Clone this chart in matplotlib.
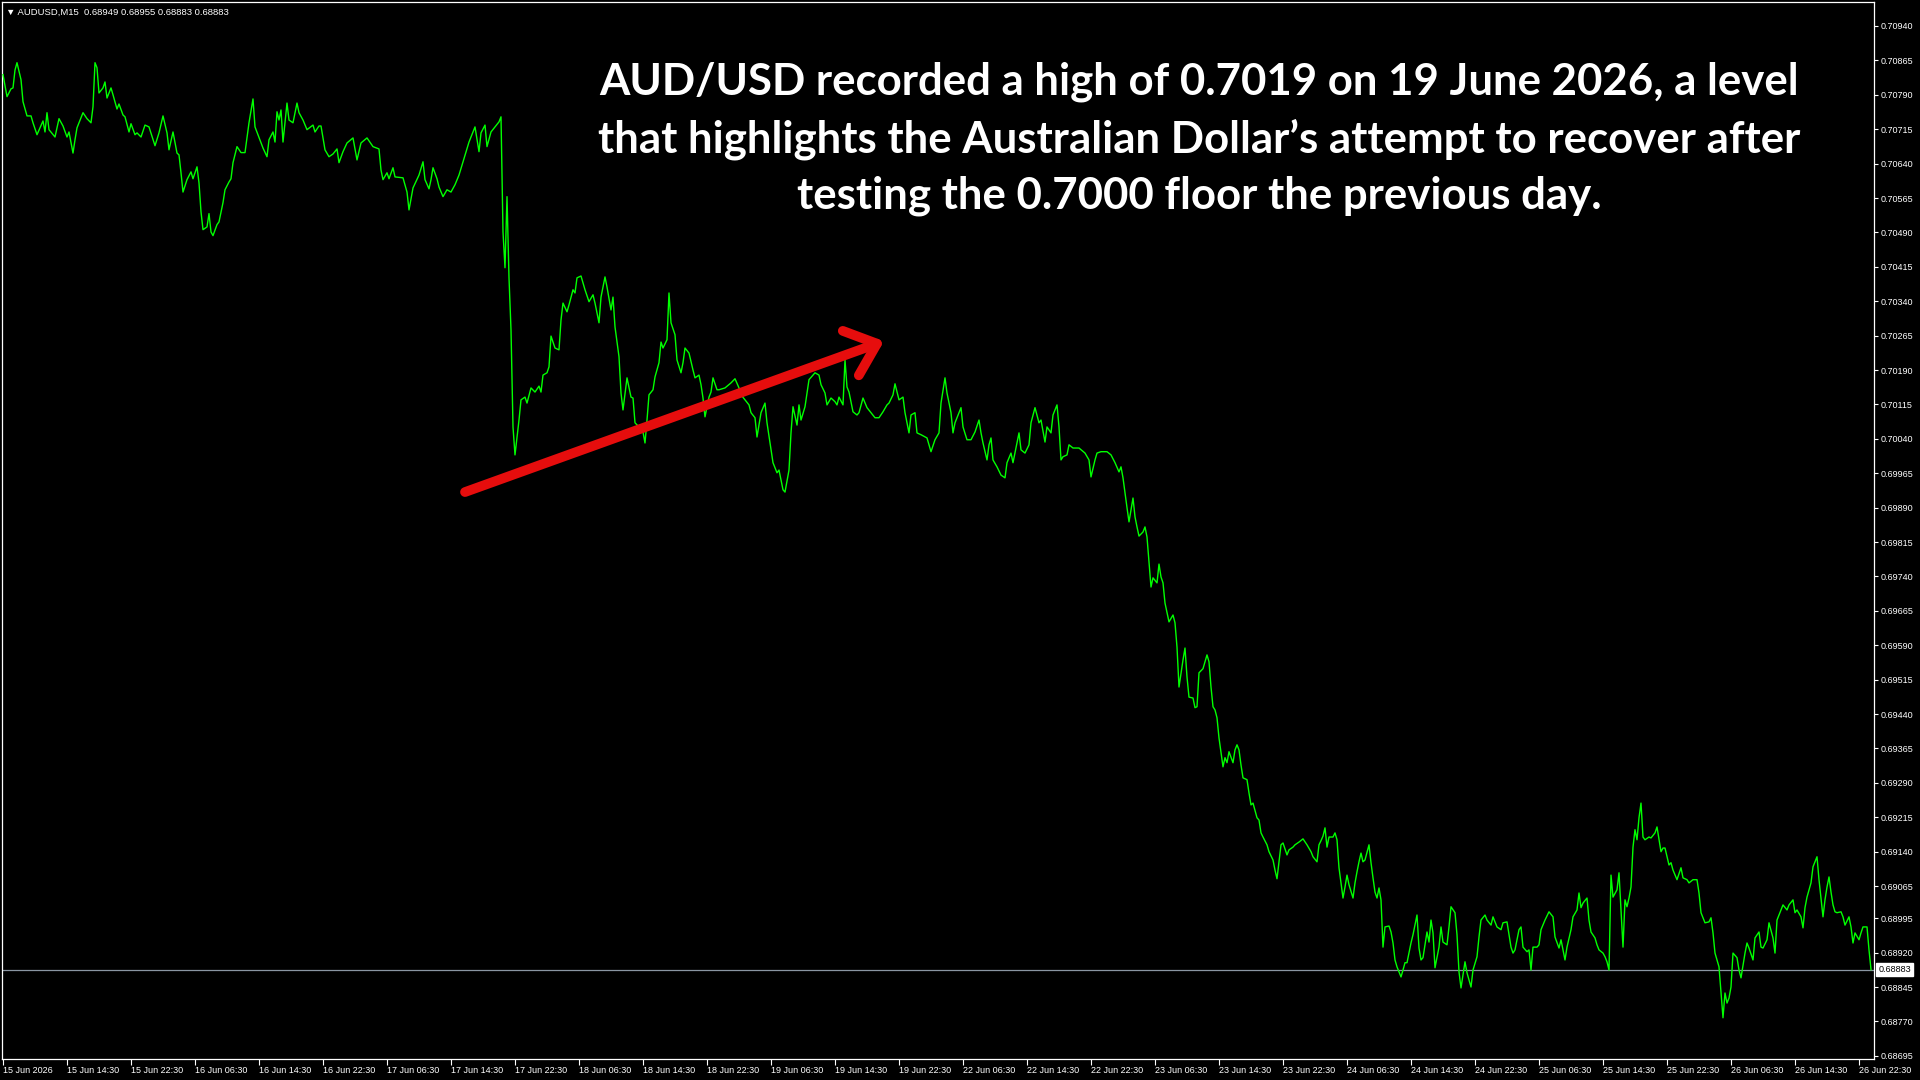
import numpy as np
import matplotlib
matplotlib.use('Agg')
import matplotlib.pyplot as plt

plt.rcParams['font.family'] = ['Liberation Sans', 'DejaVu Sans']

# AUDUSD M15, close (bar number counted from the first visible bar)
symbol = 'AUDUSD,M15'
last_ohlc = ['0.68949', '0.68955', '0.68883', '0.68883']
last_price = 0.68883

bar_idx = [
    0, 2, 4, 5, 6, 7, 9, 10, 12, 14, 15, 17,
    20, 21, 22, 23, 26, 28, 30, 32, 33, 35, 36, 37,
    40, 42, 44, 45, 46, 47, 48, 50, 51, 52, 54, 55,
    57, 58, 60, 61, 63, 64, 66, 67, 69, 71, 73, 76,
    78, 80, 82, 83, 85, 87, 88, 89, 90, 92, 94, 95,
    97, 98, 99, 100, 102, 103, 104, 105, 107, 108, 110, 111,
    113, 114, 115, 117, 119, 121, 123, 125, 126, 129, 130, 132,
    133, 135, 136, 137, 138, 139, 140, 141, 142, 143, 145, 147,
    148, 150, 152, 155, 156, 158, 159, 161, 163, 165, 167, 168,
    170, 172, 175, 177, 179, 182, 185, 188, 189, 190, 192, 193,
    195, 196, 200, 202, 203, 205, 208, 210, 211, 213, 214, 215,
    217, 218, 220, 222, 224, 226, 228, 230, 231, 233, 235, 236,
    238, 239, 241, 242, 244, 246, 248, 249, 250, 251, 252, 253,
    254, 255, 256, 258, 259, 261, 262, 264, 266, 268, 269, 270,
    272, 273, 274, 276, 278, 279, 280, 282, 283, 285, 286, 287,
    289, 291, 293, 295, 296, 298, 299, 301, 302, 304, 305, 306,
    308, 309, 310, 312, 314, 315, 316, 318, 320, 321, 322, 323,
    325, 326, 328, 329, 330, 332, 333, 334, 336, 337, 339, 340,
    341, 343, 345, 346, 348, 349, 350, 351, 353, 354, 355, 357,
    358, 361, 364, 366, 368, 369, 371, 373, 374, 376, 377, 379,
    381, 382, 384, 385, 387, 388, 390, 391, 393, 394, 395, 397,
    398, 399, 401, 402, 403, 405, 406, 408, 409, 411, 412, 414,
    416, 417, 418, 420, 421, 422, 423, 425, 427, 428, 430, 432,
    434, 436, 438, 440, 442, 443, 445, 446, 448, 450, 451, 453,
    454, 456, 457, 459, 462, 464, 466, 468, 469, 471, 472, 474,
    475, 476, 478, 479, 480, 482, 484, 486, 488, 489, 490, 492,
    493, 494, 495, 497, 499, 501, 502, 504, 505, 507, 508, 509,
    511, 513, 514, 516, 518, 519, 521, 522, 524, 525, 527, 528,
    529, 530, 532, 533, 535, 538, 541, 543, 544, 546, 547, 549,
    552, 554, 556, 558, 559, 560, 561, 562, 563, 565, 566, 567,
    568, 570, 571, 572, 573, 574, 575, 577, 578, 579, 580, 581,
    582, 583, 585, 586, 587, 588, 590, 591, 592, 593, 595, 596,
    597, 598, 600, 601, 602, 603, 604, 605, 606, 607, 608, 610,
    611, 612, 613, 615, 616, 617, 618, 619, 620, 622, 623, 624,
    625, 627, 628, 629, 630, 632, 633, 635, 636, 637, 638, 639,
    640, 642, 643, 645, 646, 648, 650, 652, 654, 655, 657, 658,
    659, 660, 661, 662, 663, 665, 666, 667, 668, 670, 671, 672,
    673, 675, 676, 677, 678, 679, 680, 681, 683, 684, 685, 686,
    687, 688, 689, 690, 691, 693, 694, 695, 696, 697, 699, 700,
    701, 702, 704, 705, 707, 708, 709, 710, 712, 713, 714, 715,
    716, 718, 719, 720, 722, 723, 724, 726, 727, 728, 729, 731,
    732, 734, 735, 737, 738, 739, 741, 742, 744, 745, 747, 749,
    750, 752, 754, 755, 756, 758, 759, 760, 762, 763, 764, 765,
    767, 768, 769, 771, 772, 773, 775, 776, 778, 779, 781, 782,
    784, 785, 787, 788, 789, 790, 792, 793, 794, 796, 797, 798,
    800, 801, 802, 803, 804, 805, 807, 808, 809, 810, 811, 812,
    813, 814, 815, 816, 817, 818, 819, 820, 821, 823, 824, 826,
    827, 829, 830, 831, 833, 834, 835, 837, 839, 840, 842, 843,
    845, 847, 848, 849, 851, 853, 854, 855, 856, 858, 859, 860,
    861, 862, 863, 864, 865, 867, 868, 869, 871, 872, 873, 875,
    876, 878, 879, 880, 882, 883, 885, 886, 887, 889, 890, 892,
    893, 895, 896, 897, 899, 900, 901, 902, 904, 905, 907, 908,
    910, 911, 912, 913, 914, 915, 916, 917, 919, 920, 921, 923,
    924, 925, 926, 928, 929, 930, 932, 933, 934,
]

close = [
    0.70834, 0.70786, 0.70803, 0.70805, 0.70844, 0.70860, 0.70823, 0.70775, 0.70744, 0.70744, 0.70729, 0.70703,
    0.70733, 0.70709, 0.70751, 0.70714, 0.70698, 0.70738, 0.70722, 0.70698, 0.70709, 0.70663, 0.70692, 0.70718,
    0.70751, 0.70738, 0.70729, 0.70764, 0.70860, 0.70849, 0.70794, 0.70805, 0.70818, 0.70783, 0.70805, 0.70790,
    0.70759, 0.70770, 0.70746, 0.70742, 0.70709, 0.70727, 0.70703, 0.70707, 0.70698, 0.70724, 0.70720, 0.70679,
    0.70707, 0.70744, 0.70707, 0.70670, 0.70709, 0.70663, 0.70659, 0.70620, 0.70578, 0.70605, 0.70622, 0.70607,
    0.70633, 0.70598, 0.70535, 0.70496, 0.70502, 0.70531, 0.70491, 0.70483, 0.70507, 0.70513, 0.70555, 0.70583,
    0.70600, 0.70607, 0.70642, 0.70677, 0.70664, 0.70664, 0.70729, 0.70781, 0.70720, 0.70685, 0.70674, 0.70655,
    0.70692, 0.70709, 0.70687, 0.70753, 0.70735, 0.70757, 0.70687, 0.70729, 0.70772, 0.70735, 0.70729, 0.70772,
    0.70751, 0.70735, 0.70714, 0.70724, 0.70709, 0.70722, 0.70722, 0.70670, 0.70655, 0.70661, 0.70672, 0.70642,
    0.70666, 0.70685, 0.70696, 0.70648, 0.70685, 0.70696, 0.70677, 0.70672, 0.70626, 0.70605, 0.70620, 0.70607,
    0.70631, 0.70611, 0.70609, 0.70578, 0.70539, 0.70587, 0.70615, 0.70644, 0.70605, 0.70585, 0.70605, 0.70631,
    0.70607, 0.70589, 0.70568, 0.70583, 0.70578, 0.70594, 0.70615, 0.70644, 0.70659, 0.70687, 0.70709, 0.70720,
    0.70666, 0.70707, 0.70724, 0.70677, 0.70709, 0.70720, 0.70731, 0.70742, 0.70491, 0.70413, 0.70568, 0.70391,
    0.70278, 0.70066, 0.70005, 0.70081, 0.70125, 0.70131, 0.70118, 0.70151, 0.70142, 0.70155, 0.70142, 0.70179,
    0.70184, 0.70197, 0.70264, 0.70238, 0.70234, 0.70299, 0.70336, 0.70317, 0.70332, 0.70365, 0.70358, 0.70391,
    0.70395, 0.70365, 0.70339, 0.70354, 0.70336, 0.70293, 0.70349, 0.70393, 0.70371, 0.70321, 0.70349, 0.70284,
    0.70219, 0.70140, 0.70103, 0.70173, 0.70131, 0.70129, 0.70075, 0.70066, 0.70055, 0.70031, 0.70081, 0.70136,
    0.70147, 0.70175, 0.70206, 0.70251, 0.70238, 0.70256, 0.70358, 0.70293, 0.70267, 0.70212, 0.70184, 0.70206,
    0.70238, 0.70227, 0.70190, 0.70173, 0.70179, 0.70158, 0.70129, 0.70088, 0.70131, 0.70142, 0.70173, 0.70147,
    0.70147, 0.70151, 0.70162, 0.70171, 0.70151, 0.70136, 0.70125, 0.70114, 0.70097, 0.70086, 0.70044, 0.70097,
    0.70118, 0.70075, 0.70016, 0.69988, 0.69966, 0.69972, 0.69929, 0.69924, 0.69972, 0.70053, 0.70110, 0.70070,
    0.70114, 0.70081, 0.70110, 0.70140, 0.70169, 0.70179, 0.70184, 0.70179, 0.70158, 0.70140, 0.70114, 0.70129,
    0.70121, 0.70114, 0.70131, 0.70114, 0.70212, 0.70153, 0.70142, 0.70099, 0.70092, 0.70097, 0.70129, 0.70108,
    0.70097, 0.70086, 0.70086, 0.70099, 0.70114, 0.70118, 0.70136, 0.70160, 0.70125, 0.70131, 0.70097, 0.70053,
    0.70092, 0.70097, 0.70053, 0.70049, 0.70042, 0.70012, 0.70038, 0.70053, 0.70118, 0.70173, 0.70140, 0.70097,
    0.70053, 0.70075, 0.70097, 0.70108, 0.70066, 0.70038, 0.70038, 0.70055, 0.70081, 0.70053, 0.70031, 0.69994,
    0.70027, 0.70042, 0.69994, 0.69979, 0.69961, 0.69955, 0.69988, 0.70009, 0.69988, 0.70031, 0.70053, 0.70016,
    0.70009, 0.70027, 0.70075, 0.70108, 0.70075, 0.70081, 0.70033, 0.70066, 0.70053, 0.70092, 0.70114, 0.70066,
    0.69994, 0.70001, 0.70005, 0.70027, 0.70020, 0.70020, 0.70009, 0.69994, 0.69957, 0.69994, 0.70009, 0.70012,
    0.70012, 0.70005, 0.69988, 0.69968, 0.69979, 0.69955, 0.69922, 0.69890, 0.69859, 0.69911, 0.69870, 0.69848,
    0.69828, 0.69837, 0.69848, 0.69826, 0.69770, 0.69717, 0.69737, 0.69726, 0.69767, 0.69739, 0.69726, 0.69682,
    0.69661, 0.69641, 0.69656, 0.69639, 0.69586, 0.69499, 0.69558, 0.69584, 0.69521, 0.69477, 0.69475, 0.69454,
    0.69456, 0.69530, 0.69539, 0.69554, 0.69569, 0.69554, 0.69499, 0.69456, 0.69449, 0.69432, 0.69388, 0.69325,
    0.69345, 0.69334, 0.69358, 0.69334, 0.69362, 0.69373, 0.69362, 0.69329, 0.69301, 0.69297, 0.69268, 0.69242,
    0.69246, 0.69214, 0.69209, 0.69181, 0.69172, 0.69155, 0.69140, 0.69122, 0.69100, 0.69081, 0.69118, 0.69155,
    0.69159, 0.69133, 0.69144, 0.69150, 0.69155, 0.69161, 0.69168, 0.69155, 0.69140, 0.69129, 0.69118, 0.69155,
    0.69164, 0.69174, 0.69192, 0.69150, 0.69172, 0.69172, 0.69181, 0.69166, 0.69105, 0.69039, 0.69063, 0.69089,
    0.69068, 0.69039, 0.69072, 0.69096, 0.69118, 0.69137, 0.69118, 0.69122, 0.69155, 0.69116, 0.69083, 0.69052,
    0.69039, 0.69061, 0.69035, 0.68932, 0.68976, 0.68978, 0.68965, 0.68941, 0.68904, 0.68889, 0.68867, 0.68882,
    0.68898, 0.68898, 0.68941, 0.68959, 0.69002, 0.68930, 0.68904, 0.68909, 0.68965, 0.68943, 0.68991, 0.68963,
    0.68887, 0.68932, 0.68976, 0.68943, 0.68937, 0.68976, 0.69020, 0.69007, 0.68959, 0.68878, 0.68843, 0.68900,
    0.68876, 0.68845, 0.68882, 0.68911, 0.68954, 0.68991, 0.69002, 0.68991, 0.68980, 0.68998, 0.68976, 0.68970,
    0.68985, 0.68987, 0.68932, 0.68919, 0.68926, 0.68970, 0.68976, 0.68932, 0.68922, 0.68926, 0.68882, 0.68932,
    0.68932, 0.68937, 0.68970, 0.68991, 0.69000, 0.69009, 0.68998, 0.68954, 0.68930, 0.68948, 0.68904, 0.68932,
    0.68970, 0.68998, 0.69013, 0.69050, 0.69018, 0.69028, 0.69039, 0.68991, 0.68965, 0.68952, 0.68937, 0.68926,
    0.68919, 0.68911, 0.68900, 0.68882, 0.69089, 0.69041, 0.69057, 0.69094, 0.69013, 0.68932, 0.69035, 0.69020,
    0.69039, 0.69063, 0.69150, 0.69188, 0.69166, 0.69214, 0.69246, 0.69172, 0.69166, 0.69172, 0.69170, 0.69181,
    0.69194, 0.69140, 0.69148, 0.69148, 0.69111, 0.69116, 0.69100, 0.69079, 0.69105, 0.69083, 0.69079, 0.69072,
    0.69079, 0.69079, 0.69050, 0.69007, 0.68985, 0.68987, 0.68996, 0.68963, 0.68919, 0.68889, 0.68832, 0.68778,
    0.68832, 0.68810, 0.68821, 0.68845, 0.68919, 0.68909, 0.68882, 0.68865, 0.68919, 0.68941, 0.68930, 0.68904,
    0.68952, 0.68965, 0.68932, 0.68930, 0.68948, 0.68985, 0.68952, 0.68919, 0.68991, 0.69013, 0.69024, 0.69013,
    0.69024, 0.69035, 0.69007, 0.69013, 0.68998, 0.68974, 0.69018, 0.69041, 0.69072, 0.69107, 0.69129, 0.69079,
    0.68998, 0.69035, 0.69063, 0.69085, 0.69052, 0.69024, 0.69009, 0.69007, 0.69009, 0.68998, 0.68980, 0.68998,
    0.68976, 0.68941, 0.68963, 0.68948, 0.68963, 0.68976, 0.68976, 0.68926, 0.68883,
]

y_tick_labels = [
    '0.70940', '0.70865', '0.70790', '0.70715', '0.70640', '0.70565', '0.70490', '0.70415',
    '0.70340', '0.70265', '0.70190', '0.70115', '0.70040', '0.69965', '0.69890', '0.69815',
    '0.69740', '0.69665', '0.69590', '0.69515', '0.69440', '0.69365', '0.69290', '0.69215',
    '0.69140', '0.69065', '0.68995', '0.68920', '0.68845', '0.68770', '0.68695',
]

x_tick_labels = [
    '15 Jun 2026', '15 Jun 14:30', '15 Jun 22:30', '16 Jun 06:30', '16 Jun 14:30',
    '16 Jun 22:30', '17 Jun 06:30', '17 Jun 14:30', '17 Jun 22:30', '18 Jun 06:30',
    '18 Jun 14:30', '18 Jun 22:30', '19 Jun 06:30', '19 Jun 14:30', '19 Jun 22:30',
    '22 Jun 06:30', '22 Jun 14:30', '22 Jun 22:30', '23 Jun 06:30', '23 Jun 14:30',
    '23 Jun 22:30', '24 Jun 06:30', '24 Jun 14:30', '24 Jun 22:30', '25 Jun 06:30',
    '25 Jun 14:30', '25 Jun 22:30', '26 Jun 06:30', '26 Jun 14:30', '26 Jun 22:30',
]
x_tick_bars = list(range(0, 32 * len(x_tick_labels), 32))   # one label every 8 hours

title_text = ('AUD/USD recorded a high of 0.7019 on 19 June 2026, a level\n'
              'that highlights the Australian Dollar\u2019s attempt to recover after\n'
              'testing the 0.7000 floor the previous day.')

# red arrow drawn by hand on the chart (bar, price)
arrow_from = (231, 0.69924)
arrow_to = (440.5, 0.70253)

assert len(bar_idx) == len(close)

fig = plt.figure(figsize=(19.2, 10.8), dpi=100, facecolor='black')
ax = fig.add_axes([2 / 1920, 21 / 1080, 1872 / 1920, 1057 / 1080])
ax.set_facecolor('black')

ax.plot(bar_idx, close, color='#00ff00', lw=1.0, zorder=3)
ax.axhline(last_price, color='#8a96a3', lw=0.9, zorder=2)

ax.set_xlim(-0.5, 935.5)
ax.set_ylim(0.686881, 0.709923)

for s in ax.spines.values():
    s.set_color('white')
    s.set_linewidth(0.9)

ax.yaxis.tick_right()
ax.set_yticks([float(v) for v in y_tick_labels], y_tick_labels)
ax.set_xticks(x_tick_bars, x_tick_labels, ha='left')
ax.tick_params(axis='y', direction='out', length=3, width=0.8, colors='white',
               labelsize=6.5, pad=2)
ax.tick_params(axis='x', direction='out', length=4, width=0.8, colors='white',
               labelsize=6.5, pad=1)

# current price box on the price scale
ax.annotate('%.5f' % last_price, xy=(1, last_price),
            xycoords=('axes fraction', 'data'), xytext=(3, 0),
            textcoords='offset points', ha='left', va='center',
            fontsize=6.5, color='black', annotation_clip=False,
            bbox=dict(boxstyle='square,pad=0.2', fc='white', ec='white'))

ax.text(0.002, 0.9905, '\u25bc ' + symbol + '  ' + ' '.join(last_ohlc),
        transform=ax.transAxes, color='white', fontsize=6.8, va='center',
        family=['Liberation Sans', 'DejaVu Sans'])

ax.text(0.6394, 0.8708, title_text, transform=ax.transAxes, color='white',
        fontsize=31.5, fontweight='bold', family=['Lato', 'DejaVu Sans'],
        ha='center', va='center', multialignment='center', linespacing=1.47)

ax.annotate('', xy=arrow_to, xytext=arrow_from,
            arrowprops=dict(arrowstyle='->,head_length=1.0,head_width=0.85',
                            color='#e60d0d', lw=7, capstyle='round',
                            joinstyle='round', shrinkA=0, shrinkB=0,
                            mutation_scale=20), zorder=4)

fig.savefig('out.png', dpi=100, facecolor='black')
